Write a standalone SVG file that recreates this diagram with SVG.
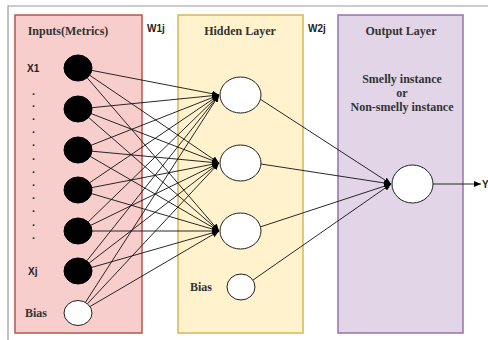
<svg xmlns="http://www.w3.org/2000/svg" width="488" height="340" viewBox="0 0 488 340">
<style>
.lbl{font-family:"Liberation Serif",serif;font-weight:bold;font-size:12px;fill:#333}
.sans{font-family:"Liberation Sans",Arial,sans-serif;font-weight:bold;font-size:10px;fill:#222}
.dot{font-family:"Liberation Sans",Arial,sans-serif;font-weight:bold;font-size:11px;fill:#222}
.in{fill:#000;stroke:#000;stroke-width:1}
.wn{fill:#fff;stroke:#222;stroke-width:1}
.c{stroke:#111;stroke-width:0.9;fill:none;marker-end:url(#ah)}
</style>
<defs>
<marker id="ah" markerWidth="8" markerHeight="6" refX="7" refY="3" orient="auto" markerUnits="userSpaceOnUse">
<path d="M0,0 L7,3 L0,6 z" fill="#000"/>
</marker>
</defs>
<rect width="488" height="340" fill="#fff"/>
<path d="M8,340 V6 H488" fill="none" stroke="#999" stroke-width="1.2"/>
<g id="layer-inputs">
<rect x="15" y="15" width="127" height="318" fill="#f8cecc" stroke="#b85450" stroke-width="1.5"/>
<text class="lbl" x="68" y="35" text-anchor="middle">Inputs(Metrics)</text>
</g>
<g id="layer-hidden">
<rect x="178" y="15" width="125" height="318" fill="#fff2cc" stroke="#d6b656" stroke-width="1.5"/>
<text class="lbl" x="240" y="35" text-anchor="middle">Hidden Layer</text>
</g>
<g id="layer-output">
<rect x="338" y="15" width="125" height="318" fill="#e1d5e7" stroke="#9673a6" stroke-width="1.5"/>
<text class="lbl" x="401" y="35" text-anchor="middle">Output Layer</text>
<text class="lbl" x="402" y="83" text-anchor="middle">Smelly instance</text>
<text class="lbl" x="402" y="97" text-anchor="middle">or</text>
<text class="lbl" x="402" y="111" text-anchor="middle">Non-smelly instance</text>
</g>
<text class="sans" x="147" y="32">W1j</text>
<text class="sans" x="308" y="32">W2j</text>
<g id="dots">
<text class="dot" x="32" y="95">.</text>
<text class="dot" x="32" y="107">.</text>
<text class="dot" x="32" y="120">.</text>
<text class="dot" x="32" y="133">.</text>
<text class="dot" x="32" y="146">.</text>
<text class="dot" x="32" y="160">.</text>
<text class="dot" x="32" y="173">.</text>
<text class="dot" x="32" y="186">.</text>
<text class="dot" x="32" y="199">.</text>
<text class="dot" x="32" y="212">.</text>
<text class="dot" x="32" y="226">.</text>
<text class="dot" x="32" y="239">.</text>
</g>
<g id="connectors">
<line class="c" x1="91.8" y1="70.4" x2="219" y2="95"/>
<line class="c" x1="89.6" y1="75.2" x2="219" y2="163"/>
<line class="c" x1="87.2" y1="77.8" x2="219" y2="231"/>
<line class="c" x1="91.9" y1="107.7" x2="219" y2="95"/>
<line class="c" x1="91.1" y1="113.6" x2="219" y2="163"/>
<line class="c" x1="88.6" y1="117.5" x2="219" y2="231"/>
<line class="c" x1="91" y1="145.3" x2="219" y2="95"/>
<line class="c" x1="91.9" y1="151.2" x2="219" y2="163"/>
<line class="c" x1="90.2" y1="156.4" x2="219" y2="231"/>
<line class="c" x1="89.6" y1="182.8" x2="219" y2="95"/>
<line class="c" x1="91.8" y1="187.6" x2="219" y2="163"/>
<line class="c" x1="91.5" y1="193.6" x2="219" y2="231"/>
<line class="c" x1="88.1" y1="222" x2="219" y2="95"/>
<line class="c" x1="90.6" y1="225.4" x2="219" y2="163"/>
<line class="c" x1="92" y1="231" x2="219" y2="231"/>
<line class="c" x1="86.8" y1="260.9" x2="219" y2="95"/>
<line class="c" x1="89.1" y1="263.1" x2="219" y2="163"/>
<line class="c" x1="91.5" y1="267.5" x2="219" y2="231"/>
<line class="c" x1="85.6" y1="302.1" x2="219" y2="95"/>
<line class="c" x1="87.6" y1="303.6" x2="219" y2="163"/>
<line class="c" x1="90.1" y1="306.5" x2="219" y2="231"/>
<line class="c" x1="260" y1="99" x2="391" y2="184"/>
<line class="c" x1="261" y1="164" x2="391" y2="184"/>
<line class="c" x1="260" y1="227" x2="391" y2="184"/>
<line class="c" x1="253" y1="280" x2="391" y2="184"/>
<line class="c" x1="433" y1="184" x2="481" y2="184"/>
</g>
<g id="in-x1"><ellipse class="in" cx="78" cy="68" rx="14" ry="13"/><text class="sans" x="27" y="72" font-size="11">X1</text></g>
<g id="in-2"><ellipse class="in" cx="78" cy="109" rx="14" ry="13"/></g>
<g id="in-3"><ellipse class="in" cx="78" cy="150" rx="14" ry="13"/></g>
<g id="in-4"><ellipse class="in" cx="78" cy="190" rx="14" ry="13"/></g>
<g id="in-5"><ellipse class="in" cx="78" cy="231" rx="14" ry="13"/></g>
<g id="in-xj"><ellipse class="in" cx="78" cy="271" rx="14" ry="13"/><text class="sans" x="28" y="275" font-size="11">Xj</text></g>
<g id="in-bias"><ellipse class="wn" cx="78" cy="313" rx="14" ry="12.5"/><text class="lbl" x="25" y="317">Bias</text></g>
<g id="h-1"><ellipse class="wn" cx="240.5" cy="95" rx="20.5" ry="18"/></g>
<g id="h-2"><ellipse class="wn" cx="240.5" cy="163" rx="20.5" ry="18"/></g>
<g id="h-3"><ellipse class="wn" cx="240.5" cy="231" rx="20.5" ry="18"/></g>
<g id="h-bias"><ellipse class="wn" cx="241" cy="287" rx="14" ry="13"/><text class="lbl" x="190" y="291">Bias</text></g>
<g id="out"><ellipse class="wn" cx="412.5" cy="184" rx="20.5" ry="19"/></g>
<text class="sans" x="482" y="188" font-size="11">Y</text>
</svg>
